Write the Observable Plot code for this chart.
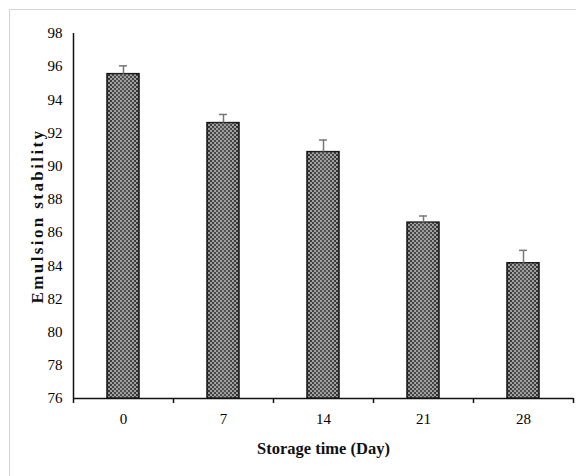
<!DOCTYPE html>
<html>
<head>
<meta charset="utf-8">
<script src="https://cdn.jsdelivr.net/npm/d3@7"></script>
<script src="https://cdn.jsdelivr.net/npm/@observablehq/plot@0.6"></script>
<style>
  html, body { margin: 0; padding: 0; background: #fff; }
  #wrap { position: relative; width: 576px; height: 476px; overflow: hidden; }
  #border { position: absolute; left: 9px; top: 9px; width: 600px; height: 500px;
            border-top: 1.5px solid #d4d4d4; border-left: 1.5px solid #d4d4d4; pointer-events: none; }
  svg, svg text { font-family: "Liberation Serif", "Times New Roman", serif !important; }
  .ytitle text { letter-spacing: 2.4px; }
</style>
</head>
<body>
<div id="wrap"><div id="border"></div></div>
<script>
const days = ["0", "7", "14", "21", "28"];
const stability = [95.55, 92.6, 90.85, 86.6, 84.15];
const errors = [0.5, 0.52, 0.73, 0.4, 0.78];
const yTicks = [76, 78, 80, 82, 84, 86, 88, 90, 92, 94, 96, 98];
const xTitle = "Storage time (Day)";
const yTitle = "Emulsion stability";

const data = days.map((d, i) => ({day: d, value: stability[i], err: errors[i]}));
const yMin = yTicks[0], yMax = yTicks[yTicks.length - 1];

const marginLeft = 73, marginRight = 3, marginTop = 33, marginBottom = 78;
const width = 576, height = 476;
const step = (width - marginLeft - marginRight) / days.length;

const chart = Plot.plot({
  width, height, marginLeft, marginRight, marginTop, marginBottom,
  style: {fontFamily: "'Liberation Serif', 'Times New Roman', serif", background: "transparent"},
  x: {domain: days, paddingInner: 0.68, paddingOuter: 0.34, axis: null},
  y: {domain: [yMin, yMax], axis: null},
  marks: [
    Plot.axisY({ticks: yTicks, tickSize: 0, tickPadding: 11, fontSize: 15, label: null}),
    Plot.axisX({tickSize: 0, tickPadding: 15, fontSize: 15, label: null}),
    Plot.barY(data, {x: "day", y1: yMin, y2: "value", fill: "url(#hexpat)", stroke: "#111", strokeWidth: 1.5}),
    Plot.barY(data, {x: "day", y1: yMin, y2: "value", fill: "url(#shine)"}),
    Plot.ruleX(data, {x: "day", y1: "value", y2: d => d.value + d.err, stroke: "#777", strokeWidth: 1.5}),
    Plot.tickY(data, {x: "day", y: d => d.value + d.err, stroke: "#777", strokeWidth: 1.5, insetLeft: 12, insetRight: 12}),
    Plot.ruleY([yMin], {stroke: "#111", strokeWidth: 1.5}),
    Plot.ruleX([days[0]], {dx: -step / 2, y1: yMin, y2: yMax, stroke: "#111", strokeWidth: 1.5}),
    Plot.ruleX(days, {dx: -step / 2, insetTop: height - marginTop - marginBottom, insetBottom: -5, stroke: "#111", strokeWidth: 1.5}),
    Plot.ruleX([days[days.length - 1]], {dx: step / 2, insetTop: height - marginTop - marginBottom, insetBottom: -5, stroke: "#111", strokeWidth: 1.5}),
    Plot.text([xTitle], {frameAnchor: "bottom", dy: 55, fontSize: 16.5, fontWeight: "bold", fill: "#111"}),
    Plot.text([yTitle], {frameAnchor: "left", dx: -36, rotate: -90, textAnchor: "middle", fontSize: 17, fontWeight: "bold", fill: "#111", className: "ytitle"})
  ]
});

const ns = "http://www.w3.org/2000/svg";
const defs = document.createElementNS(ns, "defs");
defs.innerHTML = `
  <pattern id="hexpat" patternUnits="userSpaceOnUse" width="4" height="4">
    <rect width="4" height="4" fill="#2b2b2b"/>
    <circle cx="1" cy="1" r="0.95" fill="#c8c8c8"/>
    <circle cx="3" cy="3" r="0.95" fill="#c8c8c8"/>
  </pattern>
  <linearGradient id="shine" x1="0" x2="1" y1="0" y2="0">
    <stop offset="0" stop-color="#fff" stop-opacity="0"/>
    <stop offset="0.5" stop-color="#999" stop-opacity="0.35"/>
    <stop offset="1" stop-color="#fff" stop-opacity="0"/>
  </linearGradient>`;
chart.insertBefore(defs, chart.firstChild);
document.getElementById("wrap").appendChild(chart);
chart.style.position = "absolute";
chart.style.left = "0";
chart.style.top = "0";
</script>
</body>
</html>
